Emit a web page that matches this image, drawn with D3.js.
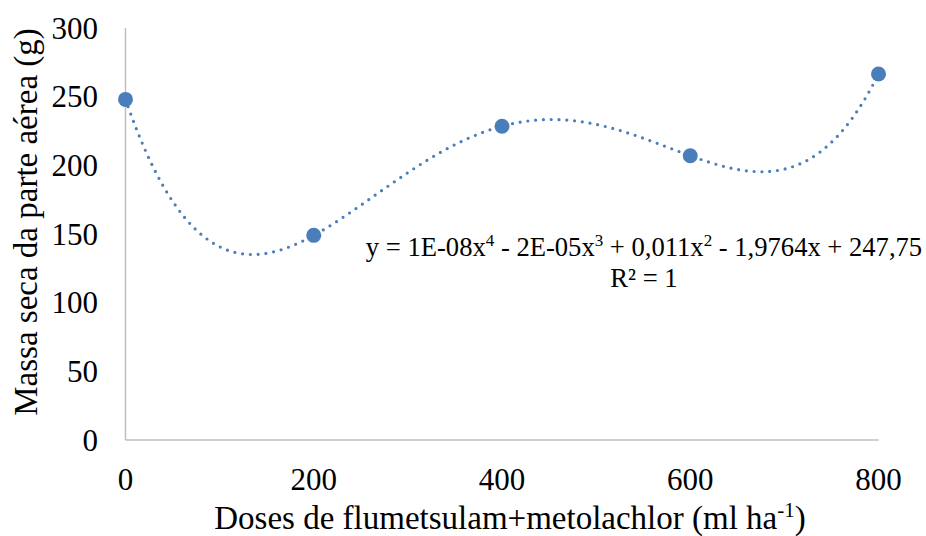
<!DOCTYPE html>
<html><head><meta charset="utf-8">
<script src="https://cdn.jsdelivr.net/npm/d3@7"></script>
<style>
body{margin:0;background:#fff;}
svg text{font-family:"Liberation Serif","Times New Roman",Times,serif;}
</style></head>
<body><svg id="c" width="926" height="536"></svg>
<script>
const doses = [0, 200, 400, 600, 800];
const massa = [248, 149, 228.5, 207, 266.5];
const xTicks = [0, 200, 400, 600, 800];
const yTicks = [0, 50, 100, 150, 200, 250, 300];

const FONT = "Liberation Serif";
const svg = d3.select("#c");
const x = d3.scaleLinear().domain([0, 800]).range([125.5, 878.5]);
const y = d3.scaleLinear().domain([0, 300]).range([440, 28]);
const color = "#4a7ebb";

svg.append("line").attr("x1", x(0)).attr("x2", x(800)).attr("y1", y(0)).attr("y2", y(0))
  .attr("stroke", "#bfbfbf").attr("stroke-width", 1.5);
svg.append("line").attr("x1", x(0)).attr("x2", x(0)).attr("y1", y(0)).attr("y2", y(300))
  .attr("stroke", "#bfbfbf").attr("stroke-width", 1.5);

svg.selectAll(".yt").data(yTicks).enter().append("text")
  .attr("x", 98).attr("y", d => y(d) + 10.5)
  .attr("text-anchor", "end").attr("font-size", 31).attr("font-family", FONT).text(d => d);
svg.selectAll(".xt").data(xTicks).enter().append("text")
  .attr("x", d => x(d)).attr("y", 490)
  .attr("text-anchor", "middle").attr("font-size", 31).attr("font-family", FONT).text(d => d);

svg.append("text").attr("transform", "translate(37,222) rotate(-90)")
  .attr("text-anchor", "middle").attr("font-size", 33).attr("font-family", FONT)
  .text("Massa seca da parte aérea (g)");
const xt = svg.append("text").attr("x", 510).attr("y", 529)
  .attr("text-anchor", "middle").attr("font-size", 33).attr("font-family", FONT);
xt.append("tspan").text("Doses de flumetsulam+metolachlor (ml ha");
xt.append("tspan").attr("font-size", 21).attr("dy", -12).text("-1");
xt.append("tspan").attr("dy", 12).text(")");

function poly(t) {
  let s = 0;
  for (let i = 0; i < doses.length; i++) {
    let l = 1;
    for (let j = 0; j < doses.length; j++) if (j !== i) l *= (t - doses[j]) / (doses[i] - doses[j]);
    s += massa[i] * l;
  }
  return s;
}
const curve = d3.range(0, 801, 4).map(t => [t, poly(t)]);
svg.append("path").datum(curve)
  .attr("d", d3.line().x(d => x(d[0])).y(d => y(d[1])))
  .attr("fill", "none").attr("stroke", color).attr("stroke-width", 3.2)
  .attr("stroke-linecap", "round").attr("stroke-dasharray", "0 7.8");

svg.selectAll(".pt").data(doses).enter().append("circle")
  .attr("cx", d => x(d)).attr("cy", (d, i) => y(massa[i])).attr("r", 7.5).attr("fill", color);

const eq = svg.append("text").attr("x", 644).attr("y", 256).attr("text-anchor", "middle")
  .attr("font-size", 26.6).attr("font-family", FONT);
const parts = [["y = 1E-08x"], ["4", 1], [" - 2E-05x"], ["3", 1], [" + 0,011x"], ["2", 1], [" - 1,9764x + 247,75"]];
let up = false;
parts.forEach(p => {
  const ts = eq.append("tspan").text(p[0]);
  if (p[1]) { ts.attr("font-size", 17).attr("dy", -10); up = true; }
  else if (up) { ts.attr("dy", 10); up = false; }
});
svg.append("text").attr("x", 644).attr("y", 287).attr("text-anchor", "middle")
  .attr("font-size", 26.6).attr("font-family", FONT).text("R² = 1");
</script></body></html>
